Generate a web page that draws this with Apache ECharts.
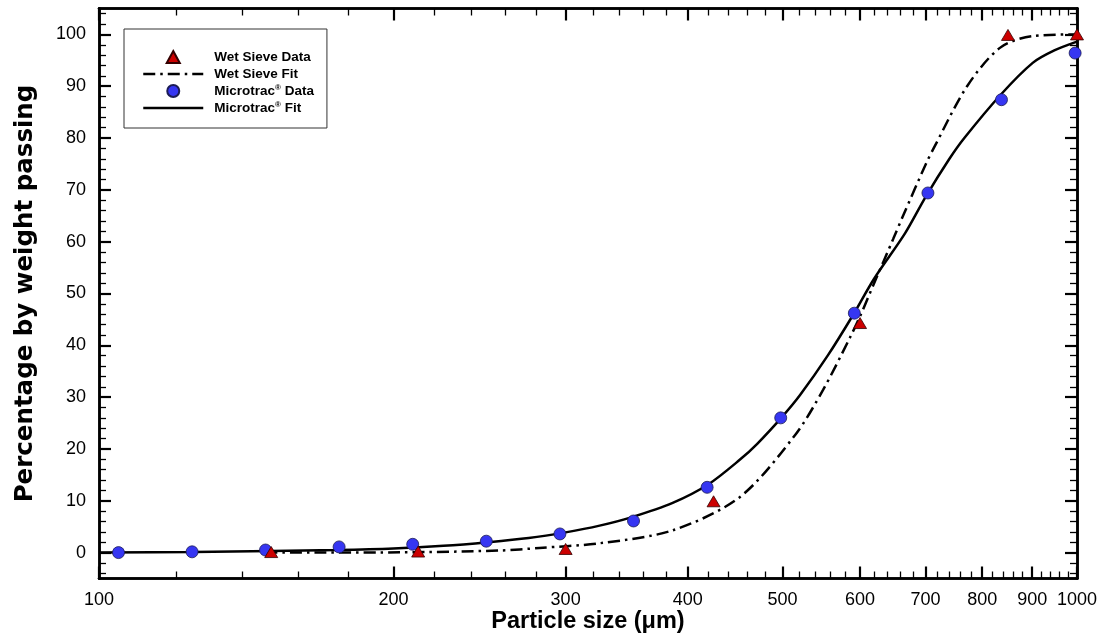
<!DOCTYPE html>
<html><head><meta charset="utf-8">
<script src="https://cdn.jsdelivr.net/npm/echarts@6/dist/echarts.min.js"></script>
<style>html,body{margin:0;padding:0;background:#fff}#c{width:1106px;height:640px}</style>
</head><body><div id="c"></div>
<script>
// ---- data ----
const wetSieveSize = [150, 212, 300, 425, 600, 850, 1000];
const wetSievePct  = [0.1, 0.2, 0.7, 9.9, 44.3, 99.9, 100];

const microtracSize = [104.7, 124.5, 148, 176, 209.3, 248.9, 296, 352, 418.6, 497.8, 592, 704, 837.1, 995.6];
const microtracPct  = [0.0, 0.15, 0.5, 1.1, 1.6, 2.2, 3.6, 6.1, 12.6, 26.0, 46.2, 69.4, 87.4, 96.4];

const wetFitSize = [148, 203, 257, 282, 325, 386, 452, 515, 550, 586, 601, 619, 649, 664, 701, 713, 772, 834, 901, 1000];
const wetFitPct  = [0.0, 0.05, 0.4, 0.9, 1.8, 4.3, 10.7, 22.7, 31.4, 41.5, 45.9, 51.6, 60.6, 65.0, 75.1, 77.9, 90.0, 97.4, 99.7, 100];

const microtracFitSize = [100, 125, 150, 175, 200, 225, 250, 275, 300, 325, 350, 386, 420, 452, 471, 500, 521, 556, 590, 620, 667, 700, 740, 767, 836, 901, 948, 1000];
const microtracFitPct  = [0.0, 0.1, 0.3, 0.5, 0.8, 1.3, 2.0, 2.8, 3.9, 5.2, 6.8, 9.6, 13.2, 17.9, 21.0, 26.3, 30.4, 38.0, 45.8, 52.8, 61.6, 68.6, 75.9, 80.0, 88.4, 94.5, 96.9, 98.6];

const xMajorTicks = [100, 200, 300, 400, 500, 600, 700, 800, 900, 1000];
const xMinorTicks = [120, 140, 160, 180, 220, 240, 260, 280, 320, 340, 360, 380, 420, 440, 460, 480,
                     520, 540, 560, 580, 620, 640, 660, 680, 720, 740, 760, 780, 820, 840, 860, 880,
                     920, 940, 960, 980];
const yMajorTicks = [0, 10, 20, 30, 40, 50, 60, 70, 80, 90, 100];
const yMinorTicks = [-4, -2, 2, 4, 6, 8, 12, 14, 16, 18, 22, 24, 26, 28, 32, 34, 36, 38, 42, 44, 46, 48,
                     52, 54, 56, 58, 62, 64, 66, 68, 72, 74, 76, 78, 82, 84, 86, 88, 92, 94, 96, 98, 102, 104];

const seriesNames = ['Wet Sieve Data', 'Wet Sieve Fit', 'Microtrac\u00AE Data', 'Microtrac\u00AE Fit'];
const xTitle = 'Particle size (\u03BCm)';
const yTitle = 'Percentage by weight passing';

// ---- chart ----
const FONT = 'Arial, "Liberation Sans", Helvetica, sans-serif';
const pairs = (a, b) => a.map((v, i) => [v, b[i]]);

function xAx(pos, ticks, len, w, labels) {
  return {
    type: 'log', logBase: 10, min: 100, max: 1000, position: pos, gridIndex: 0,
    axisLine: {show: true, onZero: false, lineStyle: {color: '#000', width: 2.5}},
    axisTick: {show: true, inside: true, length: len, customValues: ticks, lineStyle: {color: '#000', width: w}},
    axisLabel: {show: labels, customValues: ticks, color: '#000', fontFamily: FONT, fontSize: 18, margin: 13,
                formatter: function (v) { return String(Math.round(v)); }},
    splitLine: {show: false}, minorTick: {show: false}, minorSplitLine: {show: false}
  };
}
function yAx(pos, ticks, len, w, labels) {
  return {
    type: 'value', min: -5, max: 105, position: pos, gridIndex: 0,
    axisLine: {show: true, onZero: false, lineStyle: {color: '#000', width: 2.5}},
    axisTick: {show: true, inside: true, length: len, customValues: ticks, lineStyle: {color: '#000', width: w}},
    axisLabel: {show: labels, customValues: ticks, color: '#000', fontFamily: FONT, fontSize: 18, margin: 13},
    splitLine: {show: false}, minorTick: {show: false}, minorSplitLine: {show: false}
  };
}

const xAxes = [
  xAx('bottom', xMajorTicks, 12, 2.2, true),
  xAx('bottom', xMinorTicks, 7, 1.3, false),
  xAx('top', xMajorTicks, 12, 2.2, false),
  xAx('top', xMinorTicks, 7, 1.3, false)
];
Object.assign(xAxes[0], {
  name: xTitle, nameLocation: 'middle', nameGap: 31, nameMoveOverlap: false,
  nameTextStyle: {color: '#000', fontFamily: FONT, fontSize: 23.5, fontWeight: 'bold'}
});
const yAxes = [
  yAx('left', yMajorTicks, 12, 2.2, true),
  yAx('left', yMinorTicks, 7, 1.3, false),
  yAx('right', yMajorTicks, 12, 2.2, false),
  yAx('right', yMinorTicks, 7, 1.3, false)
];
Object.assign(yAxes[0], {
  name: yTitle, nameLocation: 'middle', nameGap: 60.5, nameRotate: 90,
  nameTextStyle: {color: '#000', fontFamily: '"DejaVu Sans", Arial, sans-serif', fontSize: 24.5, fontWeight: 'bold'}
});

const richStyles = {
  t: {fontFamily: FONT, fontSize: 13.5, fontWeight: 'bold', color: '#000', padding: [0, 0, 0, 6], lineHeight: 14},
  u: {fontFamily: FONT, fontSize: 13.5, fontWeight: 'bold', color: '#000', lineHeight: 14},
  s: {fontFamily: FONT, fontSize: 8, fontWeight: 'bold', color: '#000', verticalAlign: 'top', lineHeight: 9}
};
const hiddenSymbol = {color: 'rgba(0,0,0,0)', borderWidth: 0, opacity: 0};

const chart = echarts.init(document.getElementById('c'), null, {renderer: 'canvas'});
chart.setOption({
  animation: false,
  backgroundColor: '#fff',
  grid: {left: 99, right: 29, top: 8.5, bottom: 61.5, containLabel: false, outerBoundsMode: 'none'},
  xAxis: xAxes,
  yAxis: yAxes,
  legend: {
    orient: 'vertical', left: 124, top: 29,
    padding: [21, 13, 13, 18], itemWidth: 60, itemHeight: 12, itemGap: 3,
    borderColor: '#333', borderWidth: 1, backgroundColor: '#fff',
    selectedMode: false, symbolKeepAspect: true,
    lineStyle: {width: 2.5},
    data: [
      {name: seriesNames[0], icon: 'path://M6,0 L12,11 L0,11 Z'},
      {name: seriesNames[1], itemStyle: hiddenSymbol},
      {name: seriesNames[2], icon: 'circle'},
      {name: seriesNames[3], itemStyle: hiddenSymbol}
    ],
    textStyle: {color: '#000', fontFamily: FONT, fontSize: 13.5, fontWeight: 'bold', lineHeight: 14, rich: richStyles},
    formatter: function (name) {
      const k = name.indexOf('\u00AE');
      if (k < 0) return '{t|' + name + '}';
      return '{t|' + name.slice(0, k) + '}{s|\u00AE}{u|' + name.slice(k + 1) + '}';
    }
  },
  series: [
    {
      name: seriesNames[1], type: 'line', xAxisIndex: 0, yAxisIndex: 0,
      data: pairs(wetFitSize, wetFitPct), smooth: 0.3,
      symbol: 'none', showSymbol: false, z: 2, silent: true,
      itemStyle: {color: '#000'},
      lineStyle: {color: '#000', width: 2.5, type: [12, 5, 2.5, 5]}
    },
    {
      name: seriesNames[3], type: 'line', xAxisIndex: 0, yAxisIndex: 0,
      data: pairs(microtracFitSize, microtracFitPct), smooth: 0.3,
      symbol: 'none', showSymbol: false, z: 2, silent: true,
      itemStyle: {color: '#000'},
      lineStyle: {color: '#000', width: 2.5, type: 'solid'}
    },
    {
      name: seriesNames[2], type: 'scatter', xAxisIndex: 0, yAxisIndex: 0,
      data: pairs(microtracSize, microtracPct), symbol: 'circle', symbolSize: 12, z: 3,
      itemStyle: {color: '#3636f2', borderColor: '#1c1c55', borderWidth: 0.8, opacity: 1}
    },
    {
      name: seriesNames[0], type: 'scatter', xAxisIndex: 0, yAxisIndex: 0,
      data: pairs(wetSieveSize, wetSievePct), symbol: 'triangle', symbolSize: [13, 11], z: 4,
      itemStyle: {color: '#cc0000', borderColor: '#330000', borderWidth: 0.8, opacity: 1}
    }
  ]
});
</script>
</body></html>
